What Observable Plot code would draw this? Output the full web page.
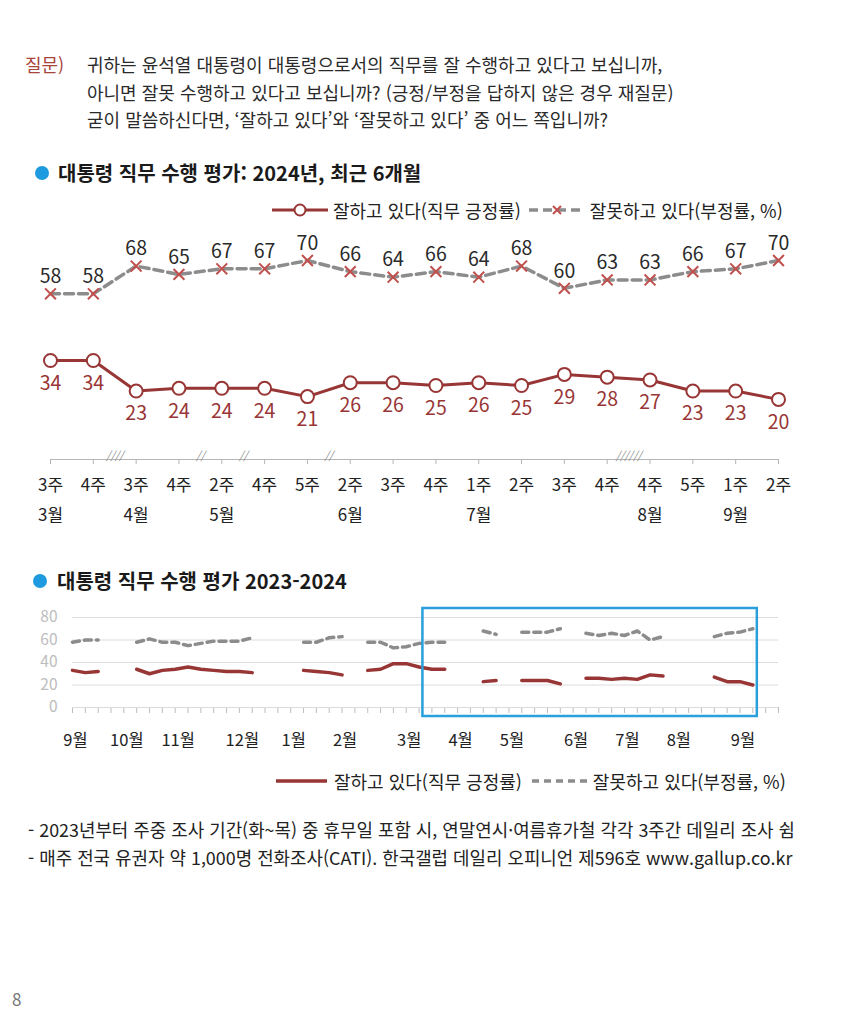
<!DOCTYPE html>
<html lang="ko">
<head>
<meta charset="utf-8">
<script src="https://cdn.jsdelivr.net/npm/d3@7"></script>
<script src="https://cdn.jsdelivr.net/npm/@observablehq/plot@0.6"></script>
<style>
  html, body { margin: 0; padding: 0; background: #fff; }
  body { width: 850px; height: 1014px; position: relative; overflow: hidden;
         font-family: "Noto Sans CJK KR", "Noto Sans", sans-serif; color: #222; }
  .abs { position: absolute; white-space: nowrap; }
  .q { font-size: 18px; line-height: 27.5px; color: #2a2a2a; }
  .title { font-size: 20px; font-weight: 700; color: #1a1a1a; }
  .dotb { width: 14px; height: 14px; border-radius: 50%; background: #1e9be0; }
  .leg { font-size: 18px; color: #222; display: flex; align-items: center; }
  .foot { font-size: 17.9px; color: #222; }
</style>
</head>
<body>
<div class="abs q" style="left:25px; top:51px; color:#a8443c;">질문)</div>
<div class="abs q" style="left:87px; top:51px;">귀하는 윤석열 대통령이 대통령으로서의 직무를 잘 수행하고 있다고 보십니까,<br>아니면 잘못 수행하고 있다고 보십니까? (긍정/부정을 답하지 않은 경우 재질문)<br>굳이 말씀하신다면, ‘잘하고 있다’와 ‘잘못하고 있다’ 중 어느 쪽입니까?</div>

<div class="abs dotb" style="left:35px; top:166px;"></div>
<div class="abs title" style="left:58px; top:159px; line-height:28px;">대통령 직무 수행 평가: 2024년, 최근 6개월</div>

<div class="abs leg" style="left:272px; top:199px; height:22px;">
  <svg width="58" height="22"><line x1="0" y1="11" x2="56" y2="11" stroke="#983535" stroke-width="3"/><circle cx="28" cy="11" r="5.5" fill="#fff" stroke="#983535" stroke-width="2"/></svg>
  <span style="margin-left:3px;">잘하고 있다(직무 긍정률)</span>
  <svg width="57" height="22" style="margin-left:8px;"><line x1="0" y1="11" x2="55" y2="11" stroke="#8c8c8c" stroke-width="3.5" stroke-dasharray="9,5"/><path d="M24,7 L32,15 M32,7 L24,15" stroke="#c0504d" stroke-width="2"/></svg>
  <span style="margin-left:4px;">잘못하고 있다(부정률, %)</span>
</div>

<div id="topchart" class="abs" style="left:0; top:225px;"></div>

<div class="abs dotb" style="left:33px; top:574px;"></div>
<div class="abs title" style="left:57px; top:567px; line-height:28px;">대통령 직무 수행 평가 2023-2024</div>

<div id="bottomchart" class="abs" style="left:0; top:600px;"></div>

<div class="abs leg" style="left:276px; top:770px; height:22px;">
  <svg width="52" height="22"><line x1="0" y1="11" x2="51" y2="11" stroke="#983535" stroke-width="3.5"/></svg>
  <span style="margin-left:6px;">잘하고 있다(직무 긍정률)</span>
  <svg width="57" height="22" style="margin-left:10px;"><line x1="0" y1="11" x2="55" y2="11" stroke="#8c8c8c" stroke-width="3.5" stroke-dasharray="7,5"/></svg>
  <span style="margin-left:4px;">잘못하고 있다(부정률, %)</span>
</div>

<div class="abs foot" style="left:28px; top:816px;">- 2023년부터 주중 조사 기간(화~목) 중 휴무일 포함 시, 연말연시·여름휴가철 각각 3주간 데일리 조사 쉼</div>
<div class="abs foot" style="left:28px; top:844px;">- 매주 전국 유권자 약 1,000명 전화조사(CATI). 한국갤럽 데일리 오피니언 제596호 www.gallup.co.kr</div>

<div class="abs" style="left:12px; top:986px; font-size:17px; color:#777;">8</div>

<script>
// ---------- Top chart: 2024, recent 6 months ----------
const weekLabels  = ["3주","4주","3주","4주","2주","4주","5주","2주","3주","4주","1주","2주","3주","4주","4주","5주","1주","2주"];
const monthLabels = ["3월","","4월","","5월","","","6월","","","7월","","","","8월","","9월",""];
const approve     = [34,34,23,24,24,24,21,26,26,25,26,25,29,28,27,23,23,20];
const disapprove  = [58,58,68,65,67,67,70,66,64,66,64,68,60,63,63,66,67,70];
// skipped weeks between consecutive survey points (after index, number of weeks)
const breakAfter  = [1,3,4,6,13];
const breakWeeks  = [2,1,1,1,3];

// ---------- Bottom chart: weekly 2023-09 .. 2024-09 (null = no survey) ----------
const approve2 = [33,31,32,null,null,34,30,33,34,36,34,33,32,32,31,null,null,null,33,32,31,29,null,33,34,39,39,36,34,34,null,null,23,24,null,24,24,24,21,null,26,26,25,26,25,29,28,null,null,null,27,23,23,20];
const disapprove2 = [58,60,60,null,null,58,61,58,58,55,57,59,59,59,62,null,null,null,58,58,62,63,null,58,58,53,54,57,58,58,null,null,68,65,null,67,67,67,70,null,66,64,66,64,68,60,63,null,null,null,63,66,67,70];
const monthNames2 = ["9월","10월","11월","12월","1월","2월","3월","4월","5월","6월","7월","8월","9월"];
const monthStart2 = [0,4,8,13,17,21,26,30,34,39,43,47,52];
const yTicks2 = [0,20,40,60,80];
const highlightFrom = 28, highlightTo = 53;

const FONT = '"Noto Sans CJK KR", "Noto Sans", sans-serif';
const RED = "#983535", GRAY = "#8c8c8c";

const topData = weekLabels.map((w, i) => ({i, week: w, month: monthLabels[i], a: approve[i], d: disapprove[i]}));
const breaks = breakAfter.map((b, k) => ({pos: b + 0.5, mark: "/".repeat(breakWeeks[k] * 2)}));

const topChart = Plot.plot({
  width: 850, height: 310,
  marginLeft: 50, marginRight: 72, marginTop: 0, marginBottom: 76,
  x: {domain: [0, 17], ticks: 17, tickSize: 5, tickFormat: () => "", line: true},
  y: {domain: [20, 70], range: [173.9, 35], axis: null},
  style: {color: "#b5b5b5", background: "transparent", fontFamily: FONT},
  marks: [
    Plot.line(topData, {x: "i", y: "d", stroke: GRAY, strokeWidth: 3.5, strokeDasharray: "9,5"}),
    Plot.dot(topData, {x: "i", y: "d", symbol: "times", r: 5, stroke: "#c0504d", strokeWidth: 2}),
    Plot.line(topData, {x: "i", y: "a", stroke: RED, strokeWidth: 3}),
    Plot.dot(topData, {x: "i", y: "a", r: 6.5, fill: "white", stroke: RED, strokeWidth: 2}),
    Plot.text(topData, {x: "i", y: "a", text: d => String(d.a), dy: 23, fill: RED, fontSize: 19.5}),
    Plot.text(topData, {x: "i", y: "d", text: d => String(d.d), dy: -17, fill: "#2a2a2a", fontSize: 19.5}),
    Plot.text(topData, {x: "i", text: "week", frameAnchor: "bottom", dy: 31, fill: "#222", fontSize: 17}),
    Plot.text(topData, {x: "i", text: "month", frameAnchor: "bottom", dy: 61, fill: "#222", fontSize: 17}),
    Plot.text(breaks, {x: "pos", text: "mark", frameAnchor: "bottom", fill: "#888", fontSize: 11, fontStyle: "italic"})
  ]
});
document.getElementById("topchart").appendChild(topChart);

const bottomData = approve2.map((a, i) => ({i, a, d: disapprove2[i]}));
const months2 = monthNames2.map((m, k) => ({m, i: monthStart2[k]}));

const bottomChart = Plot.plot({
  width: 850, height: 160,
  marginLeft: 72, marginRight: 72, marginTop: 17, marginBottom: 53,
  x: {domain: [0, 55], ticks: 55, tickSize: 6, tickFormat: () => ""},
  y: {domain: [0, 80], ticks: yTicks2, tickSize: 0, tickPadding: 15},
  style: {color: "#bdbdbd", background: "transparent", fontFamily: FONT, fontSize: "15.5px"},
  marks: [
    Plot.ruleY(yTicks2, {stroke: "#dcdcdc", strokeWidth: 1}),
    Plot.line(bottomData, {x: "i", y: "d", stroke: GRAY, strokeWidth: 3.5, strokeDasharray: "7,5"}),
    Plot.line(bottomData, {x: "i", y: "a", stroke: RED, strokeWidth: 3.5}),
    Plot.rect([{x1: highlightFrom - 0.7, x2: highlightTo + 0.35}], {x1: "x1", x2: "x2", y1: -8, y2: 88, fill: "none", stroke: "#29a0db", strokeWidth: 2.5}),
    Plot.text(months2, {x: "i", text: "m", dx: 3, frameAnchor: "bottom", dy: 38, fill: "#222", fontSize: 16.5})
  ]
});
document.getElementById("bottomchart").appendChild(bottomChart);
</script>
</body>
</html>
